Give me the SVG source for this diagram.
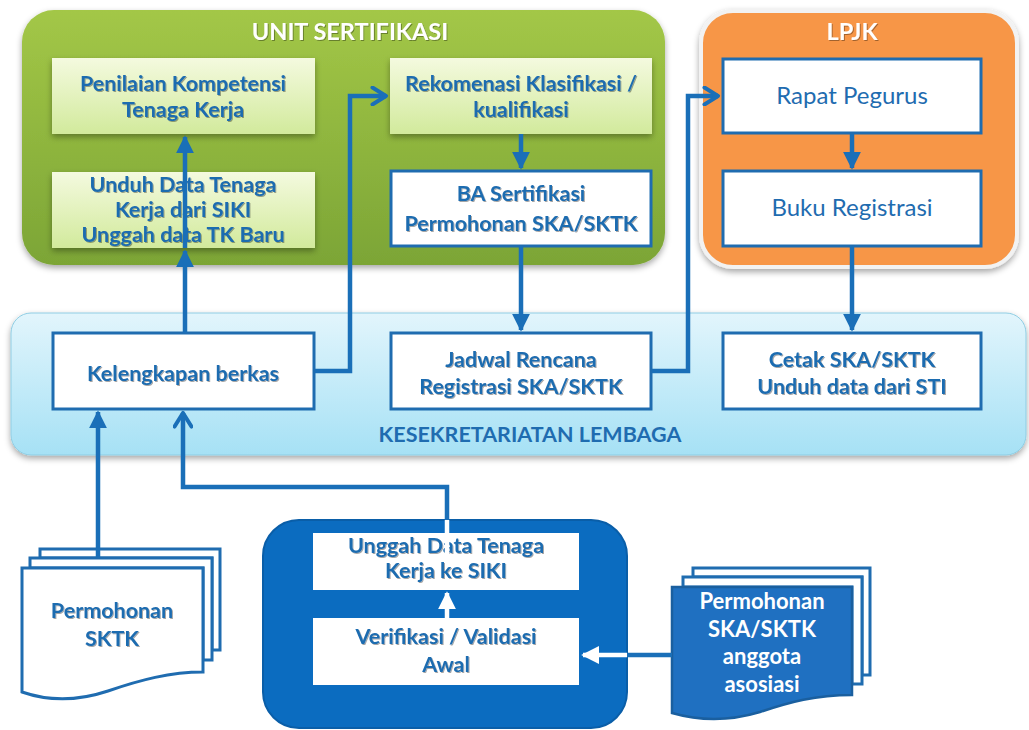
<svg xmlns="http://www.w3.org/2000/svg" width="1029" height="730" viewBox="0 0 1029 730">
<defs>
<linearGradient id="gGreen" x1="0" y1="0" x2="0" y2="1"><stop offset="0" stop-color="#A3C747"/><stop offset="1" stop-color="#7CA536"/></linearGradient>
<linearGradient id="gLight" x1="0" y1="0" x2="0" y2="1"><stop offset="0" stop-color="#F4FADF"/><stop offset="1" stop-color="#D2EA9C"/></linearGradient>
<linearGradient id="gBlueBand" x1="0" y1="0" x2="0" y2="1"><stop offset="0" stop-color="#E2F5FC"/><stop offset="1" stop-color="#A6E1F5"/></linearGradient>
<filter id="sh" x="-10%" y="-10%" width="120%" height="130%"><feDropShadow dx="0" dy="3" stdDeviation="3" flood-color="#000" flood-opacity="0.35"/></filter>
<filter id="tsh" x="-10%" y="-30%" width="120%" height="160%"><feDropShadow dx="1" dy="1" stdDeviation="0.6" flood-color="#000" flood-opacity="0.35"/></filter>
<marker id="tri" viewBox="0 0 10 10" refX="9" refY="5" markerWidth="4" markerHeight="4" orient="auto" markerUnits="strokeWidth"><path d="M0,0 L10,5 L0,10 Z" fill="#1A6FB8"/></marker>
<marker id="chev" viewBox="0 0 12 12" refX="10" refY="6" markerWidth="4.5" markerHeight="4.5" orient="auto" markerUnits="strokeWidth"><path d="M2,1 L10,6 L2,11" fill="none" stroke="#1A6FB8" stroke-width="2.4" stroke-linecap="round" stroke-linejoin="round"/></marker>
<marker id="triW" viewBox="0 0 10 10" refX="9" refY="5" markerWidth="4" markerHeight="4" orient="auto" markerUnits="strokeWidth"><path d="M0,0 L10,5 L0,10 Z" fill="#FFFFFF"/></marker>
</defs>
<style>
text{font-family:Lato,"Open Sans","Liberation Sans",sans-serif;text-anchor:middle;}
.b{font-weight:bold;fill:#1F6CB0;font-size:21.5px;}
.n{font-weight:normal;fill:#1F6CB0;font-size:24px;}
.title{font-weight:bold;fill:#FFFFFF;font-size:23.5px;}
.wb{font-weight:bold;fill:#FFFFFF;font-size:22px;}
.lbox{fill:url(#gLight);}
.wbox{fill:#FFFFFF;stroke:#1F6CB0;stroke-width:3;}
.con{fill:none;stroke:#1A6FB8;stroke-width:4.5;}
.conW{fill:none;stroke:#FFFFFF;stroke-width:4.5;}
.doc{fill:#FFFFFF;stroke:#1F6CB0;stroke-width:3;}
</style>

<g id="unit-sertifikasi">
<rect x="22" y="10" width="643" height="255" rx="32" fill="url(#gGreen)" filter="url(#sh)"/>
<text class="title" x="350" y="40" filter="url(#tsh)">UNIT SERTIFIKASI</text>
</g>
<g id="lpjk">
<rect x="701" y="11" width="316" height="256" rx="32" fill="#F79646" stroke="#F2F2F2" stroke-width="4" filter="url(#sh)"/>
<text class="title" x="852" y="40" filter="url(#tsh)">LPJK</text>
</g>
<g id="kesekretariatan">
<rect x="11" y="313" width="1015" height="142" rx="20" fill="url(#gBlueBand)" stroke="#8FCDE3" stroke-width="1" filter="url(#sh)"/>
<text class="b" x="530" y="442" style="font-size:21.5px">KESEKRETARIATAN LEMBAGA</text>
</g>
<g id="asosiasi">
<rect x="263" y="520" width="364" height="208" rx="36" fill="#0B6CC0" stroke="#0A5EA8" stroke-width="2"/>
</g>

<g id="penilaian">
<rect class="lbox" x="52" y="58" width="263" height="76" filter="url(#sh)"/>
<text class="b" x="183" y="91" filter="url(#tsh)">Penilaian Kompetensi</text>
<text class="b" x="183" y="117" filter="url(#tsh)">Tenaga Kerja</text>
</g>
<g id="unduh">
<rect class="lbox" x="52" y="172" width="263" height="76" filter="url(#sh)"/>
<text class="b" x="183" y="192" filter="url(#tsh)">Unduh Data Tenaga</text>
<text class="b" x="183" y="217" filter="url(#tsh)">Kerja dari SIKI</text>
<text class="b" x="183" y="242" filter="url(#tsh)">Unggah data TK Baru</text>
</g>
<g id="rekomenasi">
<rect class="lbox" x="390" y="58" width="262" height="76" filter="url(#sh)"/>
<text class="b" x="521" y="91" filter="url(#tsh)">Rekomenasi Klasifikasi /</text>
<text class="b" x="521" y="117" filter="url(#tsh)">kualifikasi</text>
</g>
<g id="ba-sertifikasi">
<rect class="wbox" x="391" y="171" width="260" height="75"/>
<text class="b" x="521" y="201" filter="url(#tsh)">BA Sertifikasi</text>
<text class="b" x="521" y="231" filter="url(#tsh)">Permohonan SKA/SKTK</text>
</g>
<g id="rapat">
<rect class="wbox" x="723" y="59" width="258" height="74"/>
<text class="n" x="852" y="104">Rapat Pegurus</text>
</g>
<g id="buku">
<rect class="wbox" x="723" y="171" width="258" height="75"/>
<text class="n" x="852" y="216">Buku Registrasi</text>
</g>
<g id="kelengkapan">
<rect class="wbox" x="53" y="333" width="261" height="76"/>
<text class="b" x="183" y="381" filter="url(#tsh)">Kelengkapan berkas</text>
</g>
<g id="jadwal">
<rect class="wbox" x="391" y="333" width="260" height="76"/>
<text class="b" x="521" y="367" filter="url(#tsh)">Jadwal Rencana</text>
<text class="b" x="521" y="394" filter="url(#tsh)">Registrasi SKA/SKTK</text>
</g>
<g id="cetak">
<rect class="wbox" x="723" y="333" width="258" height="76"/>
<text class="b" x="852" y="367" filter="url(#tsh)">Cetak SKA/SKTK</text>
<text class="b" x="852" y="394" filter="url(#tsh)">Unduh data dari STI</text>
</g>
<g id="unggah">
<rect x="313" y="533" width="266" height="57" fill="#FFFFFF"/>
<text class="b" x="446" y="553" filter="url(#tsh)">Unggah Data Tenaga</text>
<text class="b" x="446" y="578" filter="url(#tsh)">Kerja ke SIKI</text>
</g>
<g id="verifikasi">
<rect x="313" y="618" width="266" height="67" fill="#FFFFFF"/>
<text class="b" x="446" y="644" filter="url(#tsh)">Verifikasi / Validasi</text>
<text class="b" x="446" y="672" filter="url(#tsh)">Awal</text>
</g>
<g id="permohonan-sktk">
<path class="doc" d="M40,549 H220 V650 H212 V558 H40 Z"/>
<path class="doc" d="M30,558 H212 V660 H203 V568 H30 Z"/>
<path class="doc" d="M22,568 H203 V672 C170,672 140,680 108,691 C75,702 45,700 22,692 Z"/>
<text class="b" x="112" y="618" filter="url(#tsh)">Permohonan</text>
<text class="b" x="112" y="646" filter="url(#tsh)">SKTK</text>
</g>
<g id="permohonan-asosiasi">
<path class="doc" d="M693,568 H870 V675 H862 V577 H693 Z"/>
<path class="doc" d="M683,577 H862 V684 H852 V587 H683 Z"/>
<path d="M672,587 H852 V695 C815,695 790,702 760,712 C730,721 700,721 672,713 Z" fill="#1F70C1" stroke="#1A5F9F" stroke-width="2.5"/>
<text class="wb" x="762" y="609">Permohonan</text>
<text class="wb" x="762" y="637">SKA/SKTK</text>
<text class="wb" x="762" y="664">anggota</text>
<text class="wb" x="762" y="692">asosiasi</text>
</g>

<g id="connectors">
<path class="con" d="M185,248 V137" marker-end="url(#tri)"/>
<path class="con" d="M521,134 V168" marker-end="url(#tri)"/>
<path class="con" d="M852,134 V168" marker-end="url(#tri)"/>
<path class="con" d="M185,333 V251" marker-end="url(#tri)"/>
<path class="con" d="M521,246 V330" marker-end="url(#tri)"/>
<path class="con" d="M852,246 V330" marker-end="url(#tri)"/>
<path class="con" d="M315,371 H350 V96 H386" marker-end="url(#chev)"/>
<path class="con" d="M652,371 H688 V96 H718" marker-end="url(#chev)"/>
<path class="con" d="M98,558 V412" marker-end="url(#tri)"/>
<path class="con" d="M447,520 V487 H183 V413" marker-end="url(#chev)"/>
<path class="conW" d="M447,558 V520"/>
<path class="conW" d="M447,618 V593" marker-end="url(#triW)"/>
<path class="con" d="M672,655 H627"/>
<path class="conW" d="M627,655 H583" marker-end="url(#triW)"/>
</g>
</svg>
